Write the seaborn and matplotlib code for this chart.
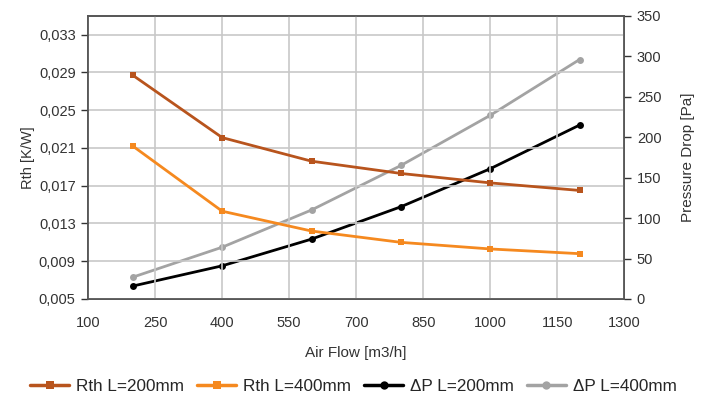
import pandas as pd
import matplotlib
matplotlib.use("Agg")
import matplotlib.pyplot as plt
import matplotlib.ticker as mticker
import seaborn as sns

# data
air_flow = [200, 400, 600, 800, 1000, 1200]
rth_200 = [0.0287, 0.0221, 0.0196, 0.0183, 0.0173, 0.0165]
rth_400 = [0.0212, 0.0143, 0.0122, 0.0110, 0.0103, 0.0098]
dp_200 = [16, 41, 74, 114, 161, 215]
dp_400 = [27, 64, 110, 165, 227, 296]

labels = ["Rth L=200mm", "Rth L=400mm", "ΔP L=200mm", "ΔP L=400mm"]
colors = ["#b8541d", "#f5891f", "#000000", "#a3a3a3"]

x_ticks = [100, 250, 400, 550, 700, 850, 1000, 1150, 1300]
rth_ticks = [0.005, 0.009, 0.013, 0.017, 0.021, 0.025, 0.029, 0.033]
dp_ticks = [0, 50, 100, 150, 200, 250, 300, 350]

sns.set_theme(style="white")
plt.rcParams["font.family"] = ["Liberation Sans", "DejaVu Sans"]

fig = plt.figure(figsize=(7.11, 3.96), dpi=100)
ax = fig.add_axes([0.124, 0.245, 0.754, 0.715])
ax2 = ax.twinx()

df_rth = pd.DataFrame({"x": air_flow * 2,
                       "y": rth_200 + rth_400,
                       "s": [labels[0]] * 6 + [labels[1]] * 6})
df_dp = pd.DataFrame({"x": air_flow * 2,
                      "y": dp_200 + dp_400,
                      "s": [labels[2]] * 6 + [labels[3]] * 6})

sns.lineplot(data=df_rth, x="x", y="y", hue="s", palette=colors[:2],
             marker="s", markersize=5, markeredgewidth=0, linewidth=2,
             ax=ax, legend=False)
sns.lineplot(data=df_dp, x="x", y="y", hue="s", palette=colors[2:],
             marker="o", markersize=5, markeredgewidth=0, linewidth=2,
             ax=ax2, legend=False)

ax.set_xlim(100, 1300)
ax.set_ylim(0.005, 0.035)
ax2.set_ylim(0, 350)
ax.set_xticks(x_ticks)
ax.set_yticks(rth_ticks)
ax2.set_yticks(dp_ticks)
ax.yaxis.set_major_formatter(mticker.FuncFormatter(lambda v, p: f"{v:.3f}".replace(".", ",")))

ax.grid(True, color="#c8c8c8", linewidth=1.2)
ax2.grid(False)
for a in (ax, ax2):
    for sp in a.spines.values():
        sp.set_color("#555555")
        sp.set_linewidth(1.2)
    a.tick_params(labelsize=10.5, colors="#333333", length=5, width=1,
                  direction="out", pad=4)
ax.tick_params(axis="y", left=True)
ax.tick_params(axis="x", bottom=False, pad=7)
ax2.tick_params(axis="y", right=True)

ax.set_xlabel("Air Flow [m3/h]", fontsize=11, color="#333333", labelpad=12)
ax.set_ylabel("Rth [K/W]", fontsize=10.5, color="#333333", labelpad=3)
ax2.set_ylabel("Pressure Drop [Pa]", fontsize=11, color="#333333", labelpad=14)
ax.set_zorder(ax2.get_zorder() + 1)
ax.patch.set_visible(False)

handles = [plt.Line2D([], [], color=colors[i], linewidth=2.5,
                      marker="s" if i < 2 else "o", markersize=6, markeredgewidth=0)
           for i in range(4)]
fig.legend(handles, labels, loc="center", bbox_to_anchor=(0.497, 0.025), ncol=4,
           frameon=False, fontsize=12.3, handlelength=2.3, columnspacing=0.75,
           handletextpad=0.4)

fig.savefig("out.png", dpi=100)
